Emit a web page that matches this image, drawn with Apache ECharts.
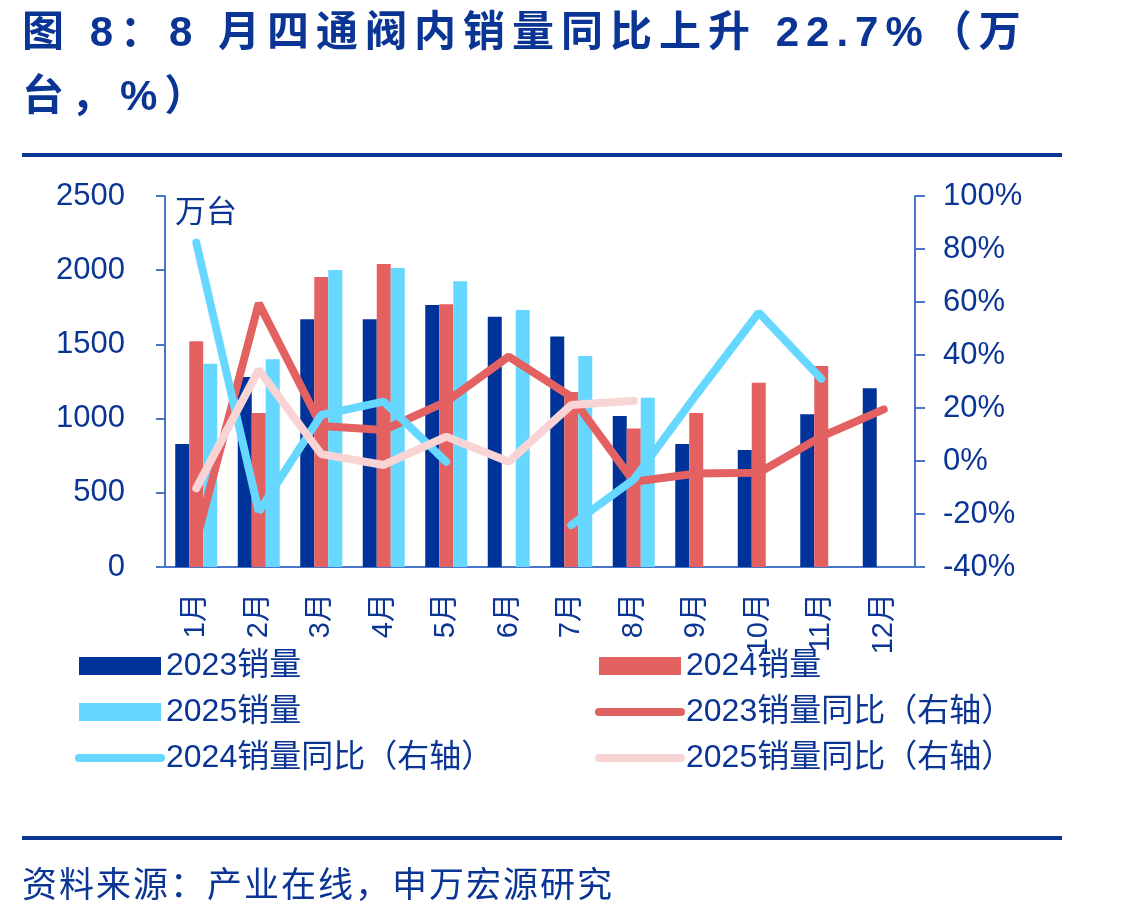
<!DOCTYPE html>
<html>
<head>
<meta charset="utf-8">
<script src="https://cdn.jsdelivr.net/npm/echarts@6/dist/echarts.min.js"></script>
<style>
	html, body { margin: 0; padding: 0; background: #fff; }
	#wrap { position: relative; width: 1124px; height: 915px; }
	#chart { position: absolute; left: 0; top: 0; width: 1124px; height: 915px; }
	.title {
		position: absolute; left: 22px; top: 0;
		font-family: 'Liberation Sans', 'Noto Sans CJK SC', sans-serif;
		font-weight: bold; font-size: 42px; line-height: 64px;
		letter-spacing: 7px; color: #0a3594; white-space: nowrap;
	}
	.rule { position: absolute; left: 22px; width: 1040px; height: 4px; background: #0a3594; }
	.source {
		position: absolute; left: 22px; top: 860px;
		font-family: 'Noto Sans CJK SC', sans-serif;
		font-size: 35px; line-height: 44px; letter-spacing: 2px;
		color: #0a3594; white-space: nowrap;
	}
</style>
</head>
<body>
<div id="wrap">
	<div id="chart"></div>
	<div class="title">图 8：8 月四通阀内销量同比上升 22.7%（万<br>台，%）</div>
	<div class="rule" style="top: 153px;"></div>
	<div class="rule" style="top: 836px;"></div>
	<div class="source">资料来源：产业在线，申万宏源研究</div>
</div>
<script>
	// 月份
	const months = ['1月', '2月', '3月', '4月', '5月', '6月', '7月', '8月', '9月', '10月', '11月', '12月'];
	// 销量（万台）
	const sales2023 = [829, 1280, 1669, 1669, 1765, 1687, 1554, 1017, 829, 788, 1029, 1204];
	const sales2024 = [1521, 1038, 1954, 2042, 1770, null, 1179, 934, 1038, 1242, 1354, null];
	const sales2025 = [1370, 1400, 2001, 2015, 1925, 1732, 1422, 1141, null, null, null, null];
	// 同比（%，右轴）
	const yoy2023 = [-30, 59.5, 13.2, 11.7, 22.4, 39.4, 24.3, -7.8, -4.7, -4.4, 9.2, 19.5];
	const yoy2024 = [82.4, -19.1, 17.4, 22.4, -0.3, null, -24.2, -7, 25, 56, 31, null];
	const yoy2025 = [-10.3, 34.5, 2.6, -1.5, 9.2, -0.3, 21.1, 22.7, null, null, null, null];

	const navy = '#0a3594';
	const axisBlue = '#4a76c9';
	const font = "'Liberation Sans', 'Noto Sans CJK SC', sans-serif";
	const lineW = 8;

	const myChart = echarts.init(document.getElementById('chart'));

	function barSeries(name, data, color) {
		return {
			name: name,
			type: 'bar',
			data: data,
			barWidth: 14,
			barGap: '0%',
			itemStyle: { color: color }
		};
	}
	function lineSeries(name, data, color) {
		return {
			name: name,
			type: 'line',
			yAxisIndex: 1,
			data: data,
			symbol: 'none',
			connectNulls: false,
			lineStyle: { color: color, width: lineW, cap: 'round' },
			itemStyle: { color: color }
		};
	}
	// 图例项：柱用方块，线用粗线（隐藏圆点）
	function barItem(name) {
		return { name: name, icon: 'rect' };
	}
	function lineItem(name) {
		return { name: name, itemStyle: { opacity: 0 }, lineStyle: { width: lineW, cap: 'round' } };
	}

	const legendBase = {
		orient: 'vertical',
		top: 650,
		padding: 0,
		itemWidth: 82,
		itemHeight: 18,
		itemGap: 14,
		selectedMode: false,
		textStyle: { color: navy, fontSize: 32, fontFamily: font }
	};

	const option = {
		animation: false,
		grid: { left: 165, right: 209, top: 196, bottom: 348 },
		graphic: [{
			type: 'text',
			left: 175,
			top: 198,
			style: { text: '万台', fill: navy, fontSize: 31, fontFamily: font }
		}],
		legend: [
			Object.assign({}, legendBase, {
				left: 75,
				data: [barItem('2023销量'), barItem('2025销量'), lineItem('2024销量同比（右轴）')]
			}),
			Object.assign({}, legendBase, {
				left: 595,
				data: [barItem('2024销量'), lineItem('2023销量同比（右轴）'), lineItem('2025销量同比（右轴）')]
			})
		],
		xAxis: {
			type: 'category',
			data: months,
			axisLine: { lineStyle: { color: axisBlue, width: 2 } },
			axisTick: { length: 10, lineStyle: { color: axisBlue, width: 2 } },
			axisLabel: {
				rotate: 90,
				margin: 26,
				interval: 0,
				color: navy,
				fontSize: 29,
				fontFamily: font
			}
		},
		yAxis: [{
			type: 'value',
			min: 0,
			max: 2500,
			interval: 500,
			splitLine: { show: false },
			axisLine: { show: true, lineStyle: { color: axisBlue, width: 2 } },
			axisTick: { show: true, length: 9, lineStyle: { color: axisBlue, width: 2 } },
			axisLabel: { margin: 40, color: navy, fontSize: 31, fontFamily: font, formatter: (v) => String(v) }
		}, {
			type: 'value',
			min: -40,
			max: 100,
			interval: 20,
			splitLine: { show: false },
			axisLine: { show: true, lineStyle: { color: axisBlue, width: 2 } },
			axisTick: { show: true, length: 10, lineStyle: { color: axisBlue, width: 2 } },
			axisLabel: { margin: 28, color: navy, fontSize: 31, fontFamily: font, formatter: '{value}%' }
		}],
		series: [
			barSeries('2023销量', sales2023, '#00339a'),
			barSeries('2024销量', sales2024, '#e46162'),
			barSeries('2025销量', sales2025, '#66d8ff'),
			lineSeries('2023销量同比（右轴）', yoy2023, '#e46162'),
			lineSeries('2024销量同比（右轴）', yoy2024, '#66d8ff'),
			lineSeries('2025销量同比（右轴）', yoy2025, '#f8d4d4')
		]
	};

	myChart.setOption(option);
	window.addEventListener('resize', () => {
		myChart.resize();
	});
</script>
</body>
</html>
